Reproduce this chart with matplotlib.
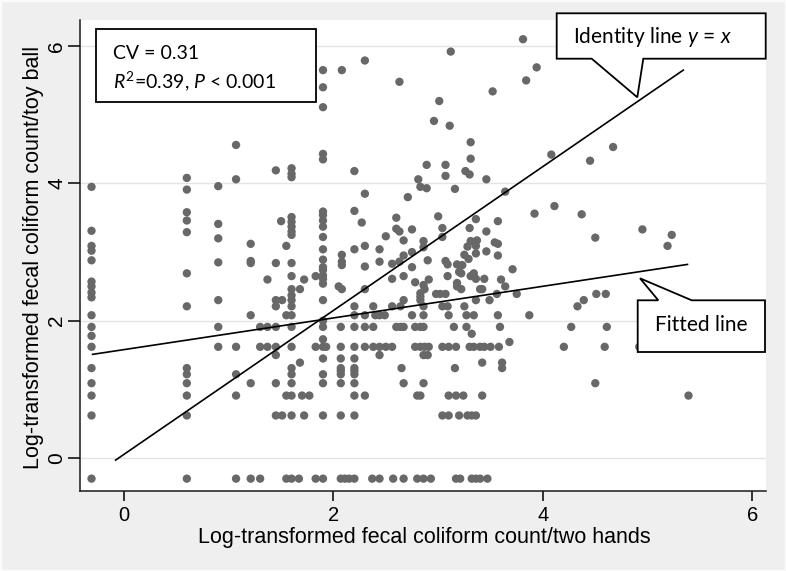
import matplotlib
matplotlib.use('Agg')
import matplotlib.pyplot as plt
from matplotlib.patches import Polygon, Rectangle

W, H = 786, 571

# log-transformed counts sit on a few discrete levels: rows of points per level
row_levels = [-0.30, 0.62, 0.91, 1.09, 1.22, 1.27, 1.31, 1.39, 1.45, 1.50,
              1.62, 1.91, 2.08, 2.21, 2.30, 2.39, 2.46]
row_hands = [
    [-0.31, 0.60, 1.07, 1.21, 1.30, 1.55, 1.60, 1.67, 1.83, 1.90, 2.07, 2.11, 2.15, 2.20,
     2.37, 2.44, 2.57, 2.67, 2.80, 2.86, 2.93, 3.17, 3.21, 3.32, 3.36, 3.40, 3.47],
    [-0.31, 0.60, 1.45, 1.51, 1.60, 1.72, 1.90, 2.07, 2.20, 3.04, 3.10, 3.20, 3.28, 3.32, 3.36],
    [-0.31, 0.60, 1.07, 1.55, 1.60, 1.70, 1.77, 2.20, 2.30, 2.80, 2.83, 3.10, 3.17, 3.24,
     3.42, 5.39],
    [-0.31, 0.60, 1.21, 1.45, 1.60, 1.90, 2.07, 2.20, 2.67, 2.86, 4.50],
    [0.60, 1.07, 1.60, 1.90, 2.07, 2.20],
    [2.07, 2.20],
    [-0.31, 0.60, 1.60, 2.07, 2.20, 2.65, 3.16, 3.61],
    [1.68, 3.42, 3.61],
    [1.90, 2.07, 2.20],
    [1.45, 2.44, 2.86, 2.90],
    [-0.31, 0.90, 1.07, 1.30, 1.37, 1.45, 1.60, 1.83, 1.90, 1.93, 2.07, 2.20, 2.30, 2.38,
     2.44, 2.50, 2.56, 2.78, 2.83, 2.87, 2.91, 3.04, 3.10, 3.17, 3.30, 3.34, 3.40, 3.44,
     3.50, 3.58, 4.20, 4.59, 4.92],
    [-0.31, 0.90, 1.30, 1.37, 1.45, 1.60, 1.90, 2.07, 2.20, 2.30, 2.38, 2.60, 2.64, 2.67,
     2.78, 2.83, 2.86, 3.15, 3.27, 3.59, 4.27, 4.61],
    [-0.31, 1.21, 1.55, 1.60, 2.20, 2.30, 2.40, 2.44, 2.49, 2.75, 2.86, 3.10, 3.27, 3.34,
     3.57, 3.87],
    [0.60, 1.45, 1.60, 2.20, 2.38, 2.56, 2.64, 2.86, 3.04, 3.09, 3.25, 4.33],
    [0.90, 1.45, 1.51, 1.60, 1.90, 2.67, 2.83, 3.36, 3.49, 4.39],
    [2.98, 3.02, 3.07, 3.56, 3.75, 4.51, 4.60],
    [1.60, 1.68, 2.08, 2.30, 2.87, 3.22, 3.40, 3.42],
]

# the remaining points, listed by hands value
columns = [
    (-0.31, [3.95, 3.31, 3.09, 3.02, 2.88, 2.57, 2.50, 2.41, 2.34, 1.78]),
    (0.60, [4.08, 3.91, 3.58, 3.46, 3.29, 2.69]),
    (0.90, [3.96, 3.41, 3.20, 2.85]),
    (1.07, [4.56, 4.06]),
    (1.21, [3.12, 2.87, 2.84]),
    (1.37, [2.60]),
    (1.45, [4.19, 2.84]),
    (1.50, [3.45]),
    (1.55, [3.09]),
    (1.60, [4.22, 4.14, 4.09, 3.51, 3.44, 3.37, 3.30, 3.25, 2.84, 2.65, 2.37]),
    (1.72, [2.60]),
    (1.83, [2.65]),
    (1.90, [5.65, 5.40, 5.11, 4.43, 4.35, 3.59, 3.54, 3.46, 3.37, 3.22, 3.04, 2.89, 2.78,
            2.74, 2.66, 2.61, 2.54, 2.00, 1.73]),
    (2.05, [2.50]),
    (2.08, [5.65, 2.96, 2.86, 2.81]),
    (2.20, [4.18, 3.60, 3.04]),
    (2.27, [3.43]),
    (2.30, [5.79, 3.85, 3.09, 2.79]),
    (2.44, [3.04, 2.86]),
    (2.50, [3.23]),
    (2.56, [2.83, 2.61]),
    (2.60, [3.50, 3.34]),
    (2.63, [5.48, 3.30, 2.86]),
    (2.67, [3.17, 2.95, 2.65]),
    (2.71, [3.80]),
    (2.75, [3.33, 3.00, 2.78]),
    (2.78, [2.56]),
    (2.81, [4.06]),
    (2.83, [3.95, 2.40, 2.35]),
    (2.86, [3.16, 3.07, 2.52]),
    (2.89, [4.27, 3.93]),
    (2.90, [2.88]),
    (2.91, [2.60]),
    (2.96, [4.91]),
    (3.00, [3.52]),
    (3.01, [5.20]),
    (3.04, [3.35, 3.22]),
    (3.07, [4.27, 4.11, 2.87]),
    (3.09, [2.82, 2.65]),
    (3.11, [4.84]),
    (3.12, [5.92]),
    (3.16, [3.92]),
    (3.18, [2.82, 2.55, 2.50]),
    (3.20, [2.71]),
    (3.22, [2.69]),
    (3.23, [2.81]),
    (3.25, [2.96]),
    (3.26, [4.18]),
    (3.28, [3.08]),
    (3.29, [2.90]),
    (3.30, [4.13, 3.35]),
    (3.31, [4.60, 4.36, 3.16, 2.65]),
    (3.32, [1.81]),
    (3.34, [2.69]),
    (3.36, [3.48, 3.09, 2.98, 2.61]),
    (3.37, [3.17]),
    (3.44, [2.61]),
    (3.46, [4.06, 3.30, 3.01]),
    (3.52, [5.34]),
    (3.54, [3.14]),
    (3.57, [3.45, 3.12, 2.95]),
    (3.60, [2.60]),
    (3.64, [3.88, 2.50]),
    (3.68, [1.69]),
    (3.71, [2.75]),
    (3.81, [6.10]),
    (3.84, [5.50]),
    (3.92, [3.56]),
    (3.94, [5.69]),
    (4.08, [4.42]),
    (4.11, [3.67]),
    (4.37, [3.55]),
    (4.45, [4.33]),
    (4.50, [3.21]),
    (4.67, [4.53]),
    (4.95, [3.33]),
    (5.19, [3.09]),
    (5.23, [3.25]),
]

# reference lines as drawn on the figure
identity_x = [-0.08, 5.34]
identity_y = [-0.03, 5.65]
fit_x = [-0.30, 5.38]
fit_y = [1.51, 2.82]

hands, ball = [], []
for level, xs in zip(row_levels, row_hands):
    hands += xs
    ball += [level] * len(xs)
for x, ys in columns:
    hands += [x] * len(ys)
    ball += ys

plt.rcParams['font.family'] = ['Liberation Sans', 'DejaVu Sans']
plt.rcParams['mathtext.fontset'] = 'custom'
plt.rcParams['mathtext.rm'] = 'Lato'
plt.rcParams['mathtext.it'] = 'Lato:italic'


def fx(px):
    return px / W


def fy(py):
    return 1 - py / H


fig = plt.figure(figsize=(W / 100, H / 100), dpi=100, facecolor='#efefef')
ax = fig.add_axes([fx(80), fy(491), fx(766) - fx(80), fy(20) - fy(491)])
ax.set_facecolor('white')
ax.set_xlim(-0.42, 6.13)
ax.set_ylim(-0.48, 6.38)
ax.set_xticks([0, 2, 4, 6])
ax.set_yticks([0, 2, 4, 6])
ax.grid(axis='y', color='#e4e4e4', lw=1)
ax.set_axisbelow(True)
for side in ['top', 'right']:
    ax.spines[side].set_visible(False)
for side in ['left', 'bottom']:
    ax.spines[side].set_color('#1a1a1a')
    ax.spines[side].set_linewidth(1.1)
ax.tick_params(axis='y', length=9, width=1.1, pad=1, labelsize=15, labelrotation=90)
ax.tick_params(axis='x', length=7, width=1.1, pad=4, labelsize=14.5)
for lab in ax.get_yticklabels():
    lab.set_va('center')

ax.scatter(hands, ball, s=36, color='#686868', edgecolors='none', zorder=3)
ax.plot(identity_x, identity_y, color='black', lw=1.2, zorder=4)
ax.plot(fit_x, fit_y, color='black', lw=1.2, zorder=4)

fig.text(fx(424), fy(538), 'Log-transformed fecal coliform count/two hands',
         ha='center', va='center', fontsize=15.5)
fig.text(fx(34), fy(257), 'Log-transformed fecal coliform count/toy ball',
         ha='center', va='center', rotation=90, fontsize=15.5)

# statistics box
fig.add_artist(Rectangle((fx(96), fy(101.7)), fx(315.7) - fx(96), fy(28.7) - fy(101.7),
                         transform=fig.transFigure, facecolor='white',
                         edgecolor='black', lw=1.3))
fig.text(fx(113), fy(53.5), 'CV = 0.31', family='Lato', fontsize=14, va='center')
fig.text(fx(113), fy(81.5), r'$\mathit{R}^{2}$=0.39, $\mathit{P}$ < 0.001',
         family='Lato', fontsize=14, va='center')

# callouts
ident_box = [(556.7, 13.3), (765.7, 13.3), (765.7, 58.7), (643.3, 58.7), (637.3, 97.3),
             (591.7, 58.7), (556.7, 58.7)]
fit_box = [(637.7, 300.3), (658.3, 300.3), (640.0, 278.3), (691.7, 300.3), (765.0, 300.3),
           (765.0, 352.0), (637.7, 352.0)]
for pts in [ident_box, fit_box]:
    fig.add_artist(Polygon([(fx(a), fy(b)) for a, b in pts], closed=True,
                           transform=fig.transFigure, facecolor='white',
                           edgecolor='black', lw=1.3))
fig.text(fx(652), fy(37), r'Identity line $\mathit{y}$ = $\mathit{x}$', family='Lato',
         fontsize=15, ha='center', va='center')
fig.text(fx(701), fy(325), 'Fitted line', family='Lato', fontsize=15,
         ha='center', va='center')

fig.add_artist(Rectangle((0, 0), 1, 1, transform=fig.transFigure, fill=False,
                         edgecolor='#fbfbfb', lw=2.5))

fig.savefig('out.png', dpi=100, facecolor=fig.get_facecolor())
